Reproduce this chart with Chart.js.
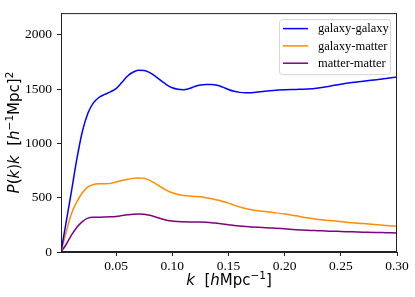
<!DOCTYPE html>
<html>
<head>
<meta charset="utf-8">
<script src="https://cdn.jsdelivr.net/npm/chart.js@4.4.1/dist/chart.umd.min.js"></script>
<style>
html,body{margin:0;padding:0;background:#fff;}
#wrap{width:415px;height:297px;}
</style>
</head>
<body>
<div id="wrap"><canvas id="chart" width="415" height="297"></canvas></div>
<script>
'use strict';
// k values shared by all three curves
var kValues = [0.001,0.005,0.010,0.015,0.020,0.025,0.030,0.035,0.040,0.045,0.050,0.055,0.060,0.065,0.070,0.075,0.080,0.085,0.090,0.095,0.100,0.105,0.110,0.115,0.120,0.125,0.130,0.135,0.140,0.145,0.150,0.155,0.160,0.165,0.170,0.180,0.190,0.200,0.210,0.220,0.230,0.240,0.250,0.260,0.270,0.280,0.290,0.300];
var galaxyGalaxy = [0,240,540,850,1110,1280,1375,1425,1452,1475,1505,1560,1618,1655,1673,1672,1652,1618,1578,1540,1512,1498,1495,1505,1524,1538,1543,1543,1536,1518,1497,1480,1470,1466,1467,1478,1488,1494,1497,1500,1510,1527,1545,1560,1572,1585,1598,1612];
var galaxyMatter = [0,160,345,460,545,600,622,628,629,632,645,658,670,678,682,678,660,630,598,568,545,530,520,515,512,508,500,490,478,465,450,432,415,400,390,375,363,350,333,315,300,290,280,270,262,253,245,236];
var matterMatter = [0,60,150,225,280,312,320,321,322,324,328,335,342,348,350,348,338,323,306,293,285,281,278,277,277,276,274,270,264,258,252,245,239,234,231,226,221,214,206,200,196,192,189,186,183,180,178,176];
var seriesNames = ['galaxy-galaxy', 'galaxy-matter', 'matter-matter'];
var seriesColors = ['#0000ff', '#ff8c00', '#800080'];
var xTicks = [0.05, 0.10, 0.15, 0.20, 0.25, 0.30];
var yTicks = [0, 500, 1000, 1500, 2000];

var canvas = document.getElementById('chart');
var ctx = canvas.getContext('2d');
var serif = '"Liberation Serif", "Times New Roman", serif';
var sans = '"DejaVu Sans", sans-serif';

function toPoints(values){
  var pts = [];
  for(var i = 0; i < kValues.length; i++){
    pts.push({x: kValues[i], y: values[i]});
  }
  return pts;
}

// draws a label made of pieces, some italic, some superscript
function drawMathText(c, parts, cx, baseline, size){
  var total = 0;
  var i;
  for(i = 0; i < parts.length; i++){
    c.font = fontFor(parts[i], size);
    parts[i].w = c.measureText(parts[i].t).width;
    total += parts[i].w;
  }
  var x = cx - total / 2;
  c.textAlign = 'left';
  c.textBaseline = 'alphabetic';
  for(i = 0; i < parts.length; i++){
    c.font = fontFor(parts[i], size);
    var y = parts[i].sup ? baseline - size * 0.42 : baseline;
    c.fillText(parts[i].t, x, y);
    x += parts[i].w;
  }
}
function fontFor(part, size){
  var s = part.sup ? size * 0.7 : size;
  return (part.it ? 'italic ' : '') + s + 'px ' + sans;
}

var xTitle = [{t:'k', it:true}, {t:'  ['}, {t:'h', it:true}, {t:'Mpc'}, {t:'\u22121', sup:true}, {t:']'}];
var yTitle = [{t:'P', it:true}, {t:'('}, {t:'k', it:true}, {t:')'}, {t:'k', it:true}, {t:'  ['}, {t:'h', it:true}, {t:'\u22121', sup:true}, {t:'Mpc'}, {t:']'}, {t:'2', sup:true}];

var framePlugin = {
  id: 'frame',
  afterDraw: function(chart){
    var a = chart.chartArea;
    var c = chart.ctx;
    c.save();
    // full box round the plot
    c.strokeStyle = '#222';
    c.lineWidth = 1;
    c.strokeRect(a.left + 0.5, a.top + 0.5, a.right - a.left - 1, a.bottom - a.top - 1);

    // legend box in upper right
    var bw = 111, bh = 55;
    var bx = a.right - 7 - bw, by = a.top + 6;
    c.beginPath();
    c.roundRect(bx + 0.5, by + 0.5, bw, bh, 3);
    c.fillStyle = 'rgba(255,255,255,0.8)';
    c.fill();
    c.strokeStyle = '#d6d6d6';
    c.stroke();
    c.font = '12.5px ' + serif;
    c.textAlign = 'left';
    c.textBaseline = 'middle';
    for(var i = 0; i < seriesNames.length; i++){
      var ly = by + 9.5 + i * 17.3;
      c.strokeStyle = seriesColors[i];
      c.lineWidth = 1.5;
      c.beginPath();
      c.moveTo(bx + 4, ly);
      c.lineTo(bx + 29, ly);
      c.stroke();
      c.fillStyle = '#000';
      c.fillText(seriesNames[i], bx + 39, ly + 0.5);
    }

    // axis titles
    c.fillStyle = '#000';
    drawMathText(c, xTitle, (a.left + a.right) / 2, 285, 15);
    c.translate(19, (a.top + a.bottom) / 2);
    c.rotate(-Math.PI / 2);
    drawMathText(c, yTitle, 0, 0, 15);
    c.restore();
  }
};

var datasets = [];
var allSeries = [galaxyGalaxy, galaxyMatter, matterMatter];
for(var s = 0; s < allSeries.length; s++){
  datasets.push({
    label: seriesNames[s],
    data: toPoints(allSeries[s]),
    borderColor: seriesColors[s],
    backgroundColor: seriesColors[s],
    borderWidth: 1.5,
    pointRadius: 0,
    cubicInterpolationMode: 'monotone',
    fill: false
  });
}

var chart = new Chart(ctx, {
  type: 'line',
  data: {datasets: datasets},
  options: {
    responsive: false,
    animation: false,
    layout: {padding: {left: 0, top: 7, right: 18, bottom: 0}},
    plugins: {legend: {display: false}, tooltip: {enabled: false}},
    scales: {
      x: {
        type: 'linear',
        min: 0.001,
        max: 0.30,
        afterBuildTicks: function(axis){
          axis.ticks = xTicks.map(function(v){ return {value: v}; });
        },
        afterFit: function(axis){ axis.height = 45; },
        ticks: {
          font: {family: serif, size: 13.5},
          color: '#000',
          padding: 2,
          maxRotation: 0,
          autoSkip: false,
          callback: function(v){ return v.toFixed(2); }
        },
        grid: {drawOnChartArea: false, tickLength: 4, color: '#222'},
        border: {color: '#222', width: 1}
      },
      y: {
        min: 0,
        max: 2200,
        afterBuildTicks: function(axis){
          axis.ticks = yTicks.map(function(v){ return {value: v}; });
        },
        afterFit: function(axis){ axis.width = 61; },
        ticks: {
          font: {family: serif, size: 13.5},
          color: '#000',
          padding: 5,
          callback: function(v){ return String(v); }
        },
        grid: {drawOnChartArea: false, tickLength: 4, color: '#222'},
        border: {color: '#222', width: 1}
      }
    }
  },
  plugins: [framePlugin]
});
</script>
</body>
</html>
